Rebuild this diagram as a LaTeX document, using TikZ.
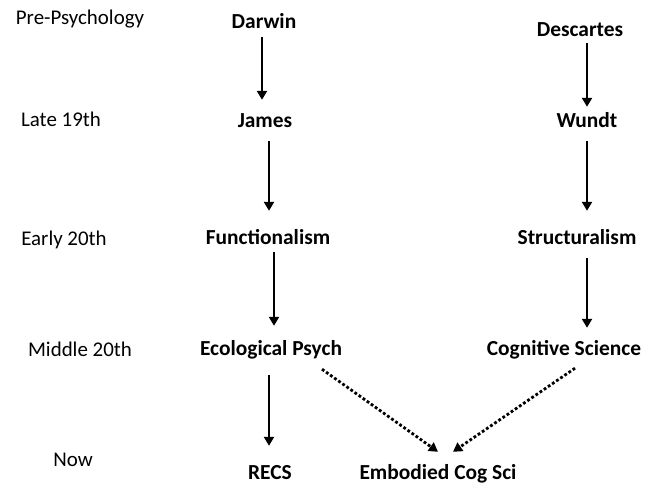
\documentclass[tikz,border=0pt]{standalone}
\usepackage{fontspec}
\setmainfont{Carlito}
\usetikzlibrary{positioning,arrows.meta}
\tikzset{
era/.style={font=\fontsize{21}{25}\selectfont, anchor=base, inner sep=0pt},
school/.style={font=\fontsize{21.5}{25}\selectfont\bfseries, anchor=base, inner sep=0pt,
  text height=14bp, text depth=4bp},
lineage/.style={-{Triangle[length=9bp,width=10bp]}, line width=2.2bp},
merge/.style={-{Triangle[length=9bp,width=10bp]}, line width=2.8bp, dash pattern=on 2.8bp off 2.2bp},
}
\begin{document}
\begin{tikzpicture}[x=1bp,y=-1bp]
\useasboundingbox (0,0) rectangle (651,484);
% eras
\node[era] (pre) at (80,25) {Pre-Psychology};
\node[era] (late) at (61,127) {Late 19th};
\node[era] (early) at (64,246) {Early 20th};
\node[era] (middle) at (80,356) {Middle 20th};
\node[era] (now) at (73,466) {Now};
% left lineage
\node[school] (darwin) at (264,29) {Darwin};
\node[school] (james) at (265,128) {James};
\node[school] (func) at (268,245) {Functionalism};
\node[school] (eco) at (271,355) {Ecological Psych};
\node[school] (recs) at (270,479) {RECS};
% right lineage
\node[school] (descartes) at (580,37) {Descartes};
\node[school] (wundt) at (587,128) {Wundt};
\node[school] (struct) at (577,245) {Structuralism};
\node[school] (cog) at (564,355) {Cognitive Science};
\node[school] (embodied) at (438,479) {Embodied Cog Sci};

\draw[lineage, shorten <=4bp, shorten >=14bp] ([xshift=-2bp]darwin.south) -- ([xshift=-2bp]darwin.south |- james.north);
\draw[lineage, shorten <=2bp, shorten >=7bp] ([xshift=7bp]descartes.south) -- ([xshift=7bp]descartes.south |- wundt.north);
\draw[lineage, shorten <=9bp, shorten >=20bp] ([xshift=4bp]james.south) -- ([xshift=4bp]james.south |- func.north);
\draw[lineage, shorten <=9bp, shorten >=20bp] (wundt.south) -- (wundt.south |- struct.north);
\draw[lineage, shorten <=3bp, shorten >=15bp] ([xshift=6bp]func.south) -- ([xshift=6bp]func.south |- eco.north);
\draw[lineage, shorten <=9bp, shorten >=13bp] ([xshift=10bp]struct.south) -- ([xshift=10bp]struct.south |- cog.north);
\draw[lineage, shorten <=16bp, shorten >=19bp] ([xshift=-2bp]eco.south) -- ([xshift=-2bp]eco.south |- recs.north);
\draw[merge] ([xshift=51bp,yshift=-10bp]eco.south) -- ([yshift=13bp]embodied.north);
\draw[merge] ([xshift=11bp,yshift=-9bp]cog.south) -- ([xshift=15bp,yshift=13bp]embodied.north);
\end{tikzpicture}
\end{document}
